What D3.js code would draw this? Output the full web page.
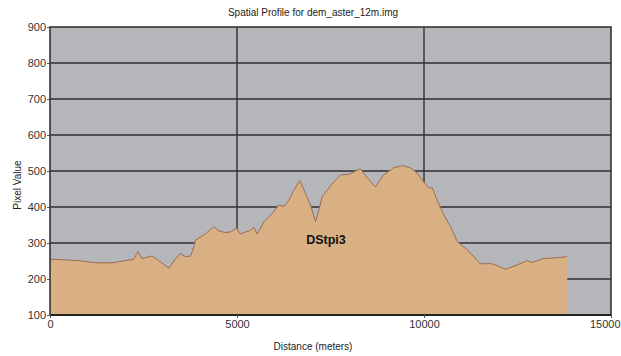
<html>
<head>
<meta charset="UTF-8">
<style>
  body { margin: 0; background: #ffffff; }
  text { font-family: "Liberation Sans Narrow", "Liberation Sans", Arial, sans-serif; }
</style>
</head>
<body>
<script src="https://cdn.jsdelivr.net/npm/d3@7"></script>
<script>

// profile: distance (m) and pixel value
var distance = [0, 410, 770, 1220, 1660, 2020, 2240, 2350, 2460, 2730, 2910, 3180, 3360, 3490, 3620, 3760,
  3850, 3890, 4110, 4380, 4510, 4690, 4830, 4990, 5090, 5230, 5340, 5450, 5540, 5720, 5940,
  6120, 6250, 6390, 6520, 6680, 6830, 6980, 7100, 7190, 7280, 7410, 7590, 7770, 7990, 8300,
  8440, 8700, 8920, 9190, 9420, 9640, 9820, 9990, 10130, 10220, 10350, 10530, 10710, 10890,
  11160, 11510, 11780, 11910, 12180, 12490, 12760, 12890, 13200, 13560, 13830];
var pixelValue = [255, 253, 251, 245, 245, 251, 255, 276, 257, 264, 251, 230, 257, 271, 262, 264,
  290, 308, 322, 345, 334, 329, 331, 341, 325, 331, 334, 344, 325, 359, 382,
  406, 401, 419, 447, 473, 438, 401, 359, 392, 429, 447, 470, 489, 491, 506,
  487, 456, 489, 509, 515, 509, 494, 470, 452, 454, 419, 378, 345, 304,
  281, 242, 243, 239, 227, 239, 251, 246, 257, 259, 262];

var xTicks = [0, 5000, 10000, 15000];
var yTicks = [100, 200, 300, 400, 500, 600, 700, 800, 900];
var seriesName = "DStpi3";

var width = 621, height = 356;
var margin = { top: 27, right: 10, bottom: 41, left: 50 };

var svg = d3.select("body").append("svg")
    .attr("width", width).attr("height", height);

var x = d3.scaleLinear().domain([0, 15000]).range([margin.left, width - margin.right]);
var y = d3.scaleLinear().domain([100, 900]).range([height - margin.bottom, margin.top]);

// plot background
svg.append("rect")
    .attr("x", x(0)).attr("y", y(900))
    .attr("width", x(15000) - x(0)).attr("height", y(100) - y(900))
    .style("fill", "#b5b6ba");

// grid
svg.append("g").selectAll("line.h")
    .data(yTicks.slice(1, -1))
    .enter().append("line")
    .attr("x1", x(0)).attr("x2", x(15000))
    .attr("y1", function(d) { return y(d); }).attr("y2", function(d) { return y(d); })
    .style("stroke", "#2e2e2e").attr("stroke-width", 1.6);

svg.append("g").selectAll("line.v")
    .data(xTicks.slice(1, -1))
    .enter().append("line")
    .attr("y1", y(100)).attr("y2", y(900))
    .attr("x1", function(d) { return x(d); }).attr("x2", function(d) { return x(d); })
    .style("stroke", "#2e2e2e").attr("stroke-width", 1.4);

// profile area
var pts = distance.map(function(d, i) { return [d, pixelValue[i]]; });
var area = d3.area()
    .x(function(d) { return x(d[0]); })
    .y0(y(100))
    .y1(function(d) { return y(d[1]); });
var line = d3.line()
    .x(function(d) { return x(d[0]); })
    .y(function(d) { return y(d[1]); });

svg.append("path").datum(pts)
    .attr("d", area)
    .style("fill", "#d9b083");
svg.append("path").datum(pts)
    .attr("d", line)
    .style("fill", "none")
    .style("stroke", "#9c6c52")
    .attr("stroke-width", 1);

// frame
svg.append("rect")
    .attr("x", x(0)).attr("y", y(900))
    .attr("width", x(15000) - x(0)).attr("height", y(100) - y(900))
    .style("fill", "none").style("stroke", "#2a2a2a").attr("stroke-width", 1.5);
svg.append("line")
    .attr("x1", x(0)).attr("x2", x(15000))
    .attr("y1", y(100)).attr("y2", y(100))
    .style("stroke", "#222").attr("stroke-width", 2.2);

// axes
var yAxis = svg.append("g")
    .attr("transform", "translate(" + x(0) + ",0)")
    .call(d3.axisLeft(y).tickValues(yTicks).tickSize(3).tickFormat(d3.format("d")));
var xAxis = svg.append("g")
    .attr("transform", "translate(0," + y(100) + ")")
    .call(d3.axisBottom(x).tickValues(xTicks).tickSize(3).tickFormat(d3.format("d")));

[yAxis, xAxis].forEach(function(a) {
  a.select(".domain").remove();
  a.selectAll("line").style("stroke", "#555");
  a.selectAll("text").style("fill", "#333").style("font-size", "11px");
});
yAxis.selectAll("text").attr("x", -4);
xAxis.selectAll("text").attr("y", 5);
// last label sits at the window edge
xAxis.selectAll(".tick").filter(function(d) { return d === 15000; })
    .select("text").attr("text-anchor", "end").attr("dx", 9);

// titles
svg.append("text")
    .attr("x", 313).attr("y", 16)
    .attr("text-anchor", "middle")
    .style("font-size", "10px").style("fill", "#222")
    .text("Spatial Profile for dem_aster_12m.img");

svg.append("text")
    .attr("x", 313).attr("y", 350)
    .attr("text-anchor", "middle")
    .style("font-size", "10px").style("fill", "#222")
    .text("Distance (meters)");

svg.append("text")
    .attr("transform", "translate(21,185) rotate(-90)")
    .attr("text-anchor", "middle")
    .style("font-size", "10px").style("fill", "#222")
    .text("Pixel Value");

// series label
svg.append("text")
    .attr("x", x(6850)).attr("y", y(297))
    .style("font-family", "'Liberation Sans', Arial, sans-serif")
    .style("font-size", "12.5px").style("font-weight", "bold").style("fill", "#111")
    .text(seriesName);

    </script>
</body>
</html>
